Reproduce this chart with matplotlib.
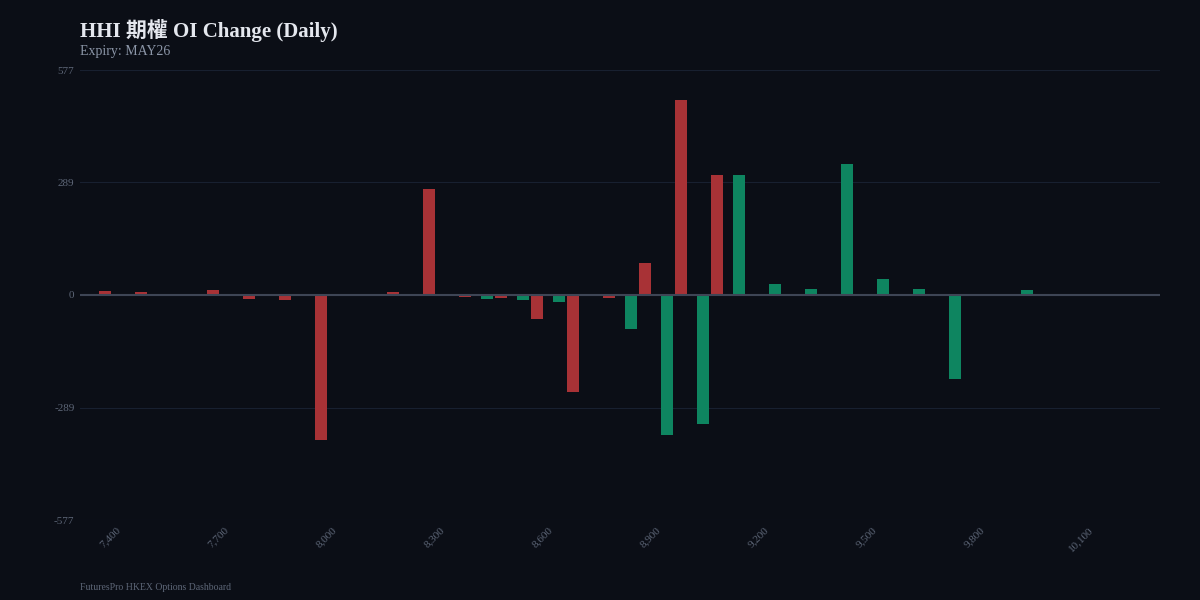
import matplotlib
matplotlib.use("Agg")
import matplotlib.pyplot as plt
import numpy as np

strikes = list(range(7400, 10300, 100))
calls = [10, 7, 1, 12, -11, -12, -373, -1, 7, 271,
         -6, -8, -61, -248, -8, 82, 501, 307, 0, 2,
         0, 0, 0, 0, 0, 0, 0, 0, 0]
puts = [0, 0, 0, 0, 0, 0, 0, 0, 0, 0,
        -10, -12, -18, 2, -87, -358, -332, 309, 28, 15,
        337, 40, 15, -215, -2, 12, 2, 2, 2]
yticks = [-577, -289, 0, 289, 577]

BG = "#0b0e16"
RED = "#a83236"
GREEN = "#0e8560"
serif = ["Liberation Serif", "Noto Sans CJK TC", "DejaVu Serif"]

fig = plt.figure(figsize=(12, 6), dpi=100, facecolor=BG)
ax = fig.add_axes([80/1200, 80/600, 1080/1200, 450/600], facecolor=BG)
x = np.arange(len(strikes))
w = 0.33
ax.bar(x - 0.31, calls, w, color=RED, zorder=3)
ax.bar(x + 0.31, puts, w, color=GREEN, zorder=3)
ax.axhline(0, color="#3e4555", lw=1.5, zorder=4)
ax.set_ylim(-577, 577)
ax.set_xlim(-1.0, 29.0)
ax.set_yticks(yticks)
ax.set_yticklabels([str(v) for v in yticks], family=serif, fontsize=8, color="#5d6677")
ax.yaxis.grid(True, color="#182030", lw=0.8, zorder=0)
tick_idx = x[::3]
ax.set_xticks(tick_idx)
ax.set_xticklabels([f"{strikes[i]:,}" for i in tick_idx], rotation=45, ha="right",
                   rotation_mode="anchor", family=serif, fontsize=8, color="#5d6677")
ax.tick_params(length=0, pad=4)
for s in ax.spines.values():
    s.set_visible(False)

fig.text(80/1200, 1 - 30/600, "HHI 期權 OI Change (Daily)", family=serif, fontsize=15,
         fontweight="bold", color="#e4e7ee", va="center")
fig.text(80/1200, 1 - 51/600, "Expiry: MAY26", family=serif, fontsize=10,
         color="#8c96a8", va="center")
fig.text(80/1200, 1 - 587/600, "FuturesPro HKEX Options Dashboard", family=serif,
         fontsize=7, color="#5d6677", va="center")
fig.savefig("out.png", facecolor=BG)
